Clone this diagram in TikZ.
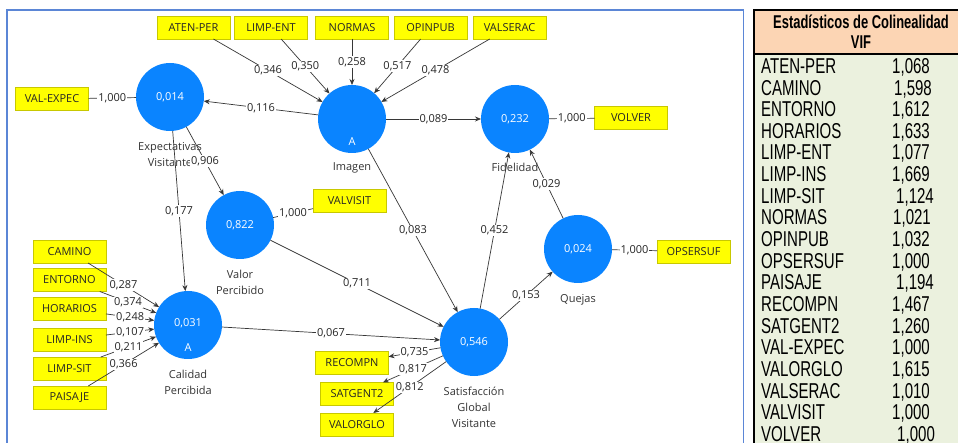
\documentclass[tikz,border=0pt]{standalone}
\usepackage{fontspec}
\setmainfont{Open Sans}
\newfontfamily\narrowfont[FakeStretch=0.7]{Liberation Sans}
\usetikzlibrary{arrows.meta}
\definecolor{lvblue}{RGB}{10,132,255}
\definecolor{boxyellow}{RGB}{255,255,0}
\definecolor{boxedge}{RGB}{200,200,0}
\definecolor{framecol}{RGB}{91,134,214}
\definecolor{headfill}{RGB}{252,213,180}
\definecolor{bodyfill}{RGB}{235,241,222}
\definecolor{linecol}{RGB}{55,55,55}
\begin{document}
\begin{tikzpicture}[x=1pt,y=-1pt,
  lv/.style={circle, fill=lvblue, minimum size=68pt, inner sep=0pt, outer sep=0pt, text=white, font=\fontsize{11}{13}\selectfont},
  inner/.style={text=white, inner sep=0pt, font=\fontsize{11}{13}\selectfont},
  ind/.style={rectangle, fill=boxyellow, draw=boxedge, line width=0.8pt, minimum width=73pt, minimum height=23pt, inner sep=0pt, outer sep=0pt, font=\fontsize{11}{13}\selectfont, text=black!85},
  cname/.style={anchor=north, align=center, inner sep=0pt, font=\fontsize{11}{16}\selectfont, text=black!80},
  conn/.style={draw=linecol, line width=0.7pt},
  arr/.style={conn, -{Stealth[length=6pt,width=5pt]}},
  coef/.style={fill=white, inner sep=1pt, font=\fontsize{11}{13}\selectfont, text=black!85},
  vifname/.style={anchor=base west, inner sep=0pt, font=\narrowfont\fontsize{21.5}{22}\selectfont},
  vifhead/.style={anchor=base, inner sep=0pt, font=\narrowfont\bfseries\fontsize{18.5}{20}\selectfont}
]
\useasboundingbox (0,0) rectangle (958,443);
\fill[white] (0,0) rectangle (958,443);

% frame of the diagram
\draw[framecol, line width=1.2pt] (7,443) -- (7,10) -- (743.5,10) -- (743.5,443);

% table
\fill[bodyfill] (754,54) rectangle (958,443);
\fill[headfill] (754,10) rectangle (958,54);
\draw[black, line width=1.5pt] (754,443) -- (754,10) -- (958,10);
\draw[black, line width=2pt] (754,54) -- (958,54);
\node[vifhead] (vh1) at (861,28.4) {Estadísticos de Colinealidad};
\node[vifhead] (vh2) at (861,48.4) {VIF};

\foreach \nm/\v/\vx [count=\i from 0] in {ATEN-PER/{1,068}/892, CAMINO/{1,598}/894, ENTORNO/{1,612}/892, HORARIOS/{1,633}/892, LIMP-ENT/{1,077}/892, LIMP-INS/{1,669}/892, LIMP-SIT/{1,124}/896, NORMAS/{1,021}/893, OPINPUB/{1,032}/892, OPSERSUF/{1,000}/892, PAISAJE/{1,194}/896, RECOMPN/{1,467}/892, SATGENT2/{1,260}/892, VAL-EXPEC/{1,000}/892, VALORGLO/{1,615}/892, VALSERAC/{1,010}/892, VALVISIT/{1,000}/892, VOLVER/{1,000}/897}{
  \node[vifname] (vn\i) at (761,{73.4+21.65*\i}) {\nm};
  \node[vifname] (vv\i) at (\vx,{73.4+21.65*\i}) {\v};
}

% latent variables
\node[lv] (exp) at (170,97) {0,014};
\node[lv] (img) at (352,119) {};
\node[inner] (imgA) at (352,142) {A};
\node[lv] (fid) at (515,119) {0,232};
\node[lv] (valor) at (240,225) {0,822};
\node[lv] (cal) at (188,325) {};
\node[inner] (calv) at (188,323) {0,031};
\node[inner] (calA) at (188,348) {A};
\node[lv] (sat) at (474,342) {0,546};
\node[lv] (que) at (578,249) {0,024};

% construct names
\node[cname] (expl) at (170,142.5) {Expectativas\\Visitante};
\node[cname] (imgl) at (352,162.5) {Imagen};
\node[cname] (fidl) at (515,162.5) {Fidelidad};
\node[cname] (valorl) at (240,269.5) {Valor\\Percibido};
\node[cname] (call) at (188,369.5) {Calidad\\Percibida};
\node[cname] (satl) at (474,386.5) {Satisfacción\\Global\\Visitante};
\node[cname] (quel) at (578,294.5) {Quejas};

% indicators
\node[ind] (aten) at (193.5,27.5) {ATEN-PER};
\node[ind] (limpent) at (271,27.5) {LIMP-ENT};
\node[ind] (normas) at (352,27.5) {NORMAS};
\node[ind] (opinpub) at (430.5,27.5) {OPINPUB};
\node[ind] (valserac) at (509.5,27.5) {VALSERAC};
\node[ind] (valexpec) at (52,99) {VAL-EXPEC};
\node[ind] (valvisit) at (349.5,200.5) {VALVISIT};
\node[ind] (volver) at (631,118) {VOLVER};
\node[ind] (opsersuf) at (693.5,251.5) {OPSERSUF};
\node[ind] (camino) at (69.5,251.5) {CAMINO};
\node[ind] (entorno) at (69.5,280) {ENTORNO};
\node[ind] (horarios) at (69.5,309) {HORARIOS};
\node[ind] (limpins) at (69.5,339.5) {LIMP-INS};
\node[ind] (limpsit) at (69.5,368.5) {LIMP-SIT};
\node[ind] (paisaje) at (69.5,397.5) {PAISAJE};
\node[ind] (recompn) at (352,363) {RECOMPN};
\node[ind] (satgent) at (357,394) {SATGENT2};
\node[ind] (valorglo) at (357,424.5) {VALORGLO};

% outer model: Imagen
\draw[arr] (aten) -- node[coef] {0,346} (img);
\draw[arr] (limpent) -- node[coef] {0,350} (img);
\draw[arr] (normas) -- node[coef] {0,258} (img);
\draw[arr] (opinpub) -- node[coef] {0,517} (img);
\draw[arr] (valserac) -- node[coef] {0,478} (img);

% outer model: Calidad
\draw[arr] (camino) -- node[coef] {0,287} (cal);
\draw[arr] (entorno) -- node[coef] {0,374} (cal);
\draw[arr] (horarios) -- node[coef] {0,248} (cal);
\draw[arr] (limpins) -- node[coef] {0,107} (cal);
\draw[arr] (limpsit) -- node[coef] {0,211} (cal);
\draw[arr] (paisaje) -- node[coef] {0,366} (cal);

% outer model: single items
\draw[conn] (valexpec) -- node[coef] {1,000} (exp);
\draw[conn] (valor) -- node[coef] {1,000} (valvisit);
\draw[conn] (fid) -- node[coef] {1,000} (volver);
\draw[conn] (que) -- node[coef] {1,000} (opsersuf);

% outer model: Satisfaccion
\draw[arr] (sat) -- node[coef] {0,735} (recompn);
\draw[arr] (sat) -- node[coef] {0,817} (satgent);
\draw[arr] (sat) -- node[coef] {0,812} (valorglo);

% inner model
\draw[arr] (img) -- node[coef] {0,116} (exp);
\draw[arr] (exp) -- node[coef] {0,906} (valor);
\draw[arr] (exp) -- node[coef] {0,177} (cal);
\draw[arr] (img) -- node[coef] {0,089} (fid);
\draw[arr] (img) -- node[coef] {0,083} (sat);
\draw[arr] (sat) -- node[coef] {0,452} (fid);
\draw[arr] (que) -- node[coef] {0,029} (fid);
\draw[arr] (sat) -- node[coef] {0,153} (que);
\draw[arr] (valor) -- node[coef] {0,711} (sat);
\draw[arr] (cal) -- node[coef] {0,067} (sat);
\end{tikzpicture}
\end{document}
